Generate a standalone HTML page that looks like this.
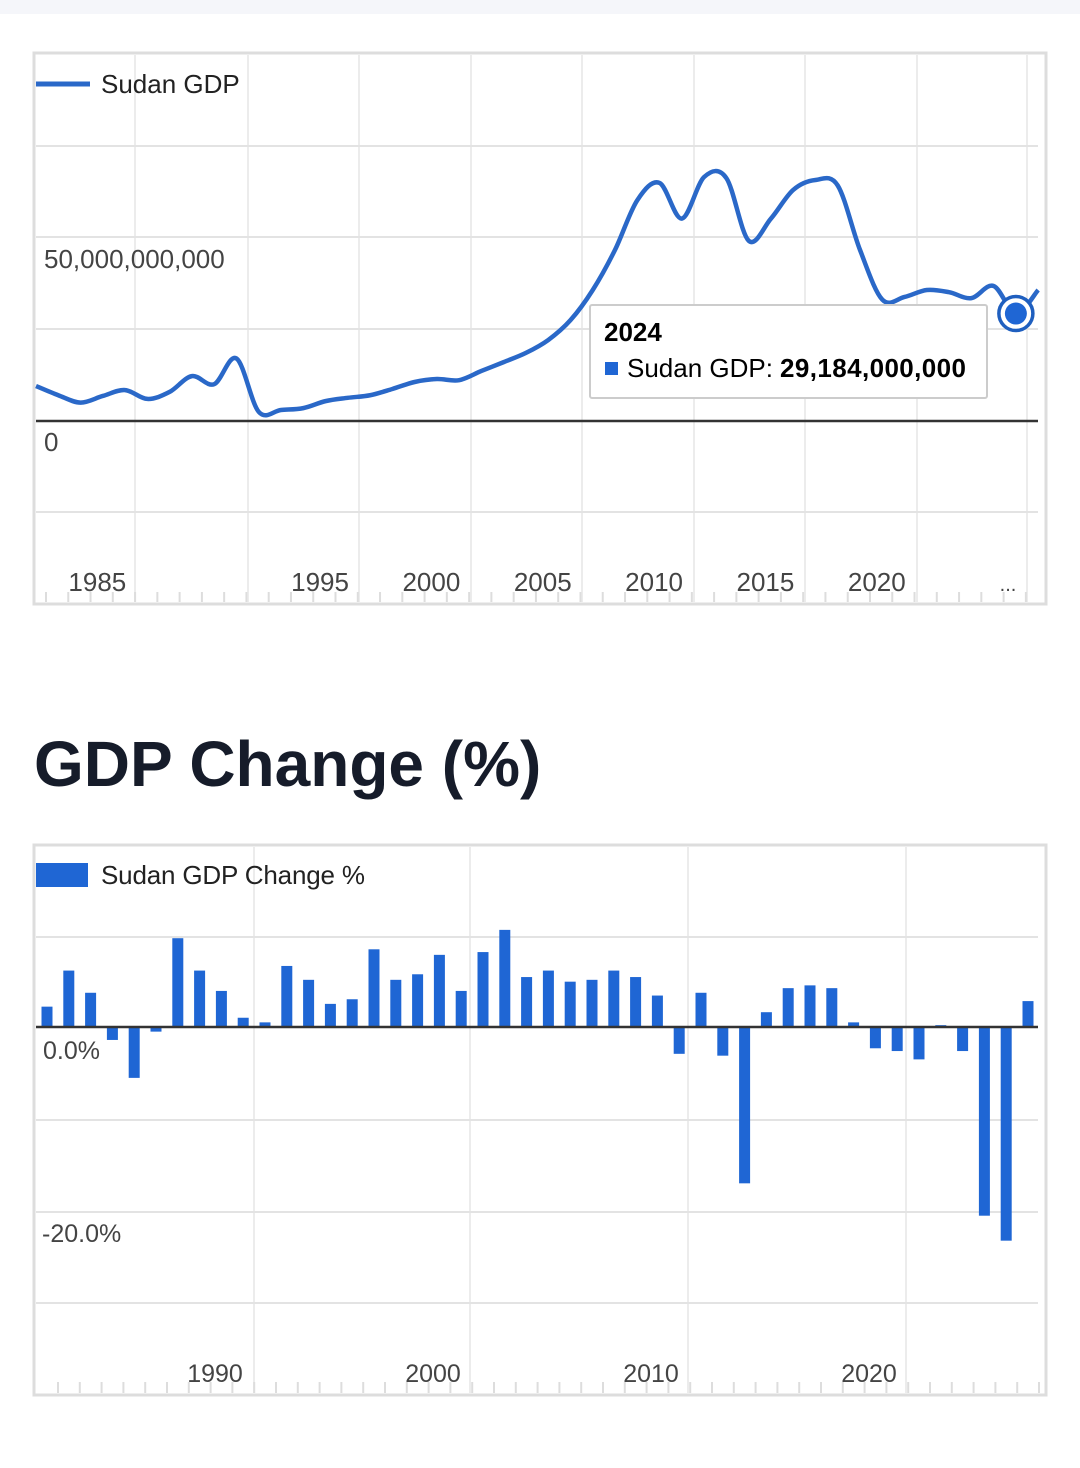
<!DOCTYPE html>
<html><head><meta charset="utf-8"><style>
body{margin:0;background:#fff;width:1080px;height:1468px;overflow:hidden;font-family:"Liberation Sans",sans-serif}
svg{position:absolute;left:0;top:0}
</style></head><body>
<svg id="s" width="1080" height="1468" xmlns="http://www.w3.org/2000/svg">
<rect x="0" y="0" width="1080" height="14" fill="#f5f6fa"/>
<text x="34" y="786" font-size="64" font-weight="bold" fill="#161c2a" font-family="Liberation Sans, sans-serif">GDP Change (%)</text>
</svg>
<script>
const gdpYears=[];for(let y=1980;y<=2025;y++)gdpYears.push(y);
const gdpValues=[9.5,7,5,6.8,8.4,6,7.9,12.2,10,17,2.5,3,3.5,5.4,6.3,7,8.7,10.6,11.4,11.1,13.6,16,18.5,22,27.4,35.6,46.5,60,64.7,55,66.3,66,49,55,62.8,65.5,64,46.5,33,33.7,35.6,35,33.4,36.7,29.2,35.6];
const gdpTickYears=[1985,1995,2000,2005,2010,2015,2020];
const gdpTickLabels=["1985","1995","2000","2005","2010","2015","2020"];
const chgYears=gdpYears.slice();
const chgValues=[2.2,6.1,3.7,-1.4,-5.5,-0.5,9.6,6.1,3.9,1.0,0.5,6.6,5.1,2.5,3.0,8.4,5.1,5.7,7.8,3.9,8.1,10.5,5.4,6.1,4.9,5.1,6.1,5.4,3.4,-2.9,3.7,-3.1,-16.9,1.6,4.2,4.5,4.2,0.5,-2.3,-2.6,-3.5,0.2,-2.6,-20.4,-23.1,2.8];
const chgTickYears=[1990,2000,2010,2020];
const chgTickLabels=["1990","2000","2010","2020"];

const NS="http://www.w3.org/2000/svg",S=document.getElementById('s');
function mk(t,a,p){const e=document.createElementNS(NS,t);for(const k in a)e.setAttribute(k,a[k]);(p||S).appendChild(e);return e;}
function txt(x,y,s,a,p){const e=mk('text',Object.assign({x:x,y:y,'font-size':25,fill:'#444','font-family':'Liberation Sans, sans-serif'},a||{}),p);e.textContent=s;return e;}

// ---------- top chart ----------
const gx=y=>36+(y-1980)*22.27, gy=v=>421-v*3.68;
let g=mk('g',{});
let fr=mk('rect',{x:34,y:53,width:1012,height:551,fill:'#fff',stroke:'#ddd','stroke-width':3},g);

[135,248,359,471,582,694,805,917,1027].forEach(x=>{const l=mk('line',{x1:x,y1:55,x2:x,y2:602,stroke:'#ececec','stroke-width':2},g);});
[146,237,329,512].forEach(y=>{const l=mk('line',{x1:36,y1:y,x2:1038,y2:y,stroke:'#e3e3e3','stroke-width':2},g);});
for(let y=1980;y<=2026;y++){const x=gx(y)+10;if(x<40||x>1036)continue;const l=mk('line',{x1:x,y1:592,x2:x,y2:602,stroke:'#ddd','stroke-width':2},g);}
let z=mk('line',{x1:36,y1:421,x2:1038,y2:421,stroke:'#333','stroke-width':2.5},g);
let t=txt(44,268,'50,000,000,000',{'font-size':26},g);
t=txt(44,451,'0',{'font-size':26},g);
gdpTickYears.forEach((yr,i)=>{const e=txt(gx(yr)-50,591,gdpTickLabels[i],{'text-anchor':'middle','font-size':26},g);});
t=txt(1008,591,'...',{'text-anchor':'middle','font-size':20},g);
const pts=gdpYears.map((y,i)=>[gx(y),gy(gdpValues[i])]);
let d='M'+pts[0][0]+','+pts[0][1];
for(let i=0;i<pts.length-1;i++){const p0=pts[i-1]||pts[i],p1=pts[i],p2=pts[i+1],p3=pts[i+2]||p2;
d+=' C'+(p1[0]+(p2[0]-p0[0])/6)+','+(p1[1]+(p2[1]-p0[1])/6)+' '+(p2[0]-(p3[0]-p1[0])/6)+','+(p2[1]-(p3[1]-p1[1])/6)+' '+p2[0]+','+p2[1];}
let ln=mk('path',{d:d,fill:'none',stroke:'#2a68c8','stroke-width':4.5,'stroke-linejoin':'round'},g);
let lg=mk('line',{x1:36,y1:84,x2:90,y2:84,stroke:'#2a68c8','stroke-width':5},g);
t=txt(101,93,'Sudan GDP',{fill:'#222','font-size':26},g);
const ti=gdpYears.indexOf(2024);
let dot=mk('circle',{cx:gx(2024),cy:gy(gdpValues[ti]),r:17,fill:'#fff',stroke:'#1f5fbf','stroke-width':3.5},g);
dot=mk('circle',{cx:gx(2024),cy:gy(gdpValues[ti]),r:11,fill:'#1f66d4'},g);
let tb=mk('rect',{x:590,y:305,width:397,height:93,fill:'#fff',stroke:'#ccc','stroke-width':2,rx:2},g);
t=txt(604,341,'2024',{fill:'#000','font-weight':'bold','font-size':26},g);
let sq=mk('rect',{x:605,y:362,width:13,height:13,fill:'#1f66d4'},g);
t=txt(627,377,'Sudan GDP:',{fill:'#000','font-size':26},g);
t=txt(780,377,'29,184,000,000',{fill:'#000','font-size':26,'font-weight':'bold',textLength:186},g);

// ---------- bottom chart ----------
const bx=y=>47+(y-1980)*21.8, by=v=>1027-v*9.25;
let g2=mk('g',{});
fr=mk('rect',{x:34,y:845,width:1012,height:550,fill:'#fff',stroke:'#ddd','stroke-width':3},g2);
[254,470,688,906].forEach(x=>{const l=mk('line',{x1:x,y1:847,x2:x,y2:1393,stroke:'#ececec','stroke-width':2},g2);});
[937,1120,1212,1303].forEach(y=>{const l=mk('line',{x1:36,y1:y,x2:1038,y2:y,stroke:'#e3e3e3','stroke-width':2},g2);});
for(let y=1980;y<=2025;y++){const l=mk('line',{x1:bx(y)+11,y1:1382,x2:bx(y)+11,y2:1393,stroke:'#ddd','stroke-width':2},g2);}
chgYears.forEach((yr,i)=>{const v=chgValues[i];const r=mk('rect',{x:bx(yr)-5.5,y:Math.min(by(v),1027),width:11,height:Math.abs(by(v)-1027),fill:'#1f66d4'},g2);

});
z=mk('line',{x1:36,y1:1027,x2:1038,y2:1027,stroke:'#333','stroke-width':2.5},g2);
t=txt(43,1059,'0.0%',{},g2);
t=txt(42,1242,'-20.0%',{},g2);
chgTickYears.forEach((yr,i)=>{const e=txt(bx(yr)-50,1382,chgTickLabels[i],{'text-anchor':'middle'},g2);});
let sw=mk('rect',{x:36,y:863,width:52,height:24,fill:'#1f66d4'},g2);
t=txt(101,884,'Sudan GDP Change %',{fill:'#222','font-size':26,textLength:264},g2);
</script>
</body></html>
